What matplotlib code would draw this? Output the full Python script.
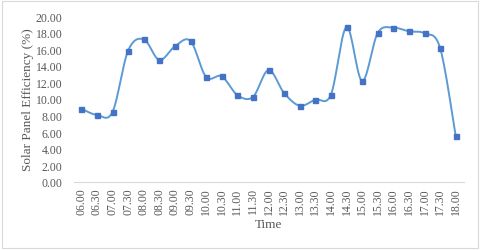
import numpy as np
import matplotlib
matplotlib.use('Agg')
from matplotlib import pyplot as plt
from matplotlib.patches import Rectangle

times = ['06.00', '06.30', '07.00', '07.30', '08.00', '08.30', '09.00', '09.30',
         '10.00', '10.30', '11.00', '11.30', '12.00', '12.30', '13.00', '13.30',
         '14.00', '14.30', '15.00', '15.30', '16.00', '16.30', '17.00', '17.30', '18.00']
efficiency = [8.83, 8.07, 8.43, 15.84, 17.22, 14.72, 16.37, 17.01,
              12.66, 12.74, 10.48, 10.24, 13.50, 10.72, 9.19, 9.92,
              10.52, 18.70, 12.18, 17.98, 18.62, 18.18, 17.94, 16.17, 5.53]
yticks = np.arange(0, 20.01, 2)

plt.rcParams['font.family'] = ['Liberation Serif', 'DejaVu Serif']
text_color = '#595959'


def smooth(x, y, steps=30):
    # excel-style smoothed line: cubic bezier with catmull-rom control points
    x = np.asarray(x, float)
    y = np.asarray(y, float)
    px = np.concatenate([[x[0]], x, [x[-1]]])
    py = np.concatenate([[y[0]], y, [y[-1]]])
    xs, ys = [], []
    t = np.linspace(0, 1, steps)
    for i in range(len(x) - 1):
        p0 = np.array([px[i + 1], py[i + 1]])
        p3 = np.array([px[i + 2], py[i + 2]])
        c1 = p0 + (np.array([px[i + 2], py[i + 2]]) - np.array([px[i], py[i]])) / 6
        c2 = p3 - (np.array([px[i + 3], py[i + 3]]) - np.array([px[i + 1], py[i + 1]])) / 6
        b = ((1 - t) ** 3)[:, None] * p0 + (3 * (1 - t) ** 2 * t)[:, None] * c1 \
            + (3 * (1 - t) * t ** 2)[:, None] * c2 + (t ** 3)[:, None] * p3
        xs.extend(b[:, 0])
        ys.extend(b[:, 1])
    return np.array(xs), np.array(ys)


fig = plt.figure(figsize=(4.8, 2.51), dpi=100)
ax = fig.add_axes([73.5 / 480, 1 - 182.7 / 251, 390 / 480, 165.4 / 251])

x = np.arange(len(times))
sx, sy = smooth(x, efficiency)
ax.plot(sx, sy, color='#5B9BD5', lw=1.4, zorder=2)
ax.plot(x, efficiency, ls='none', marker='s', ms=3.6, color='#4472C4', zorder=3)

ax.set_xlim(-0.5, len(times) - 0.5)
ax.set_ylim(0, 20)
ax.set_xticks(x)
ax.set_xticklabels(times, rotation=90, fontsize=8.5, color=text_color)
ax.set_yticks(yticks)
ax.set_yticklabels(['%.2f' % v for v in yticks], fontsize=8.5, color=text_color)
ax.tick_params(length=0, pad=4)
ax.tick_params(axis='y', pad=8)

for s in ['top', 'right', 'left']:
    ax.spines[s].set_visible(False)
ax.spines['bottom'].set_color('#D9D9D9')
ax.spines['bottom'].set_linewidth(0.8)

ax.set_xlabel('Time', fontsize=9.5, color=text_color, labelpad=3)
ax.set_ylabel('Solar Panel Efficiency (%)', fontsize=9.5, color=text_color, labelpad=1)

fig.patches.append(Rectangle((2 / 480, 2 / 251), 476 / 480, 247 / 251, transform=fig.transFigure,
                             fill=False, edgecolor='#D9D9D9', lw=0.8))

fig.savefig('out.png', dpi=100)
